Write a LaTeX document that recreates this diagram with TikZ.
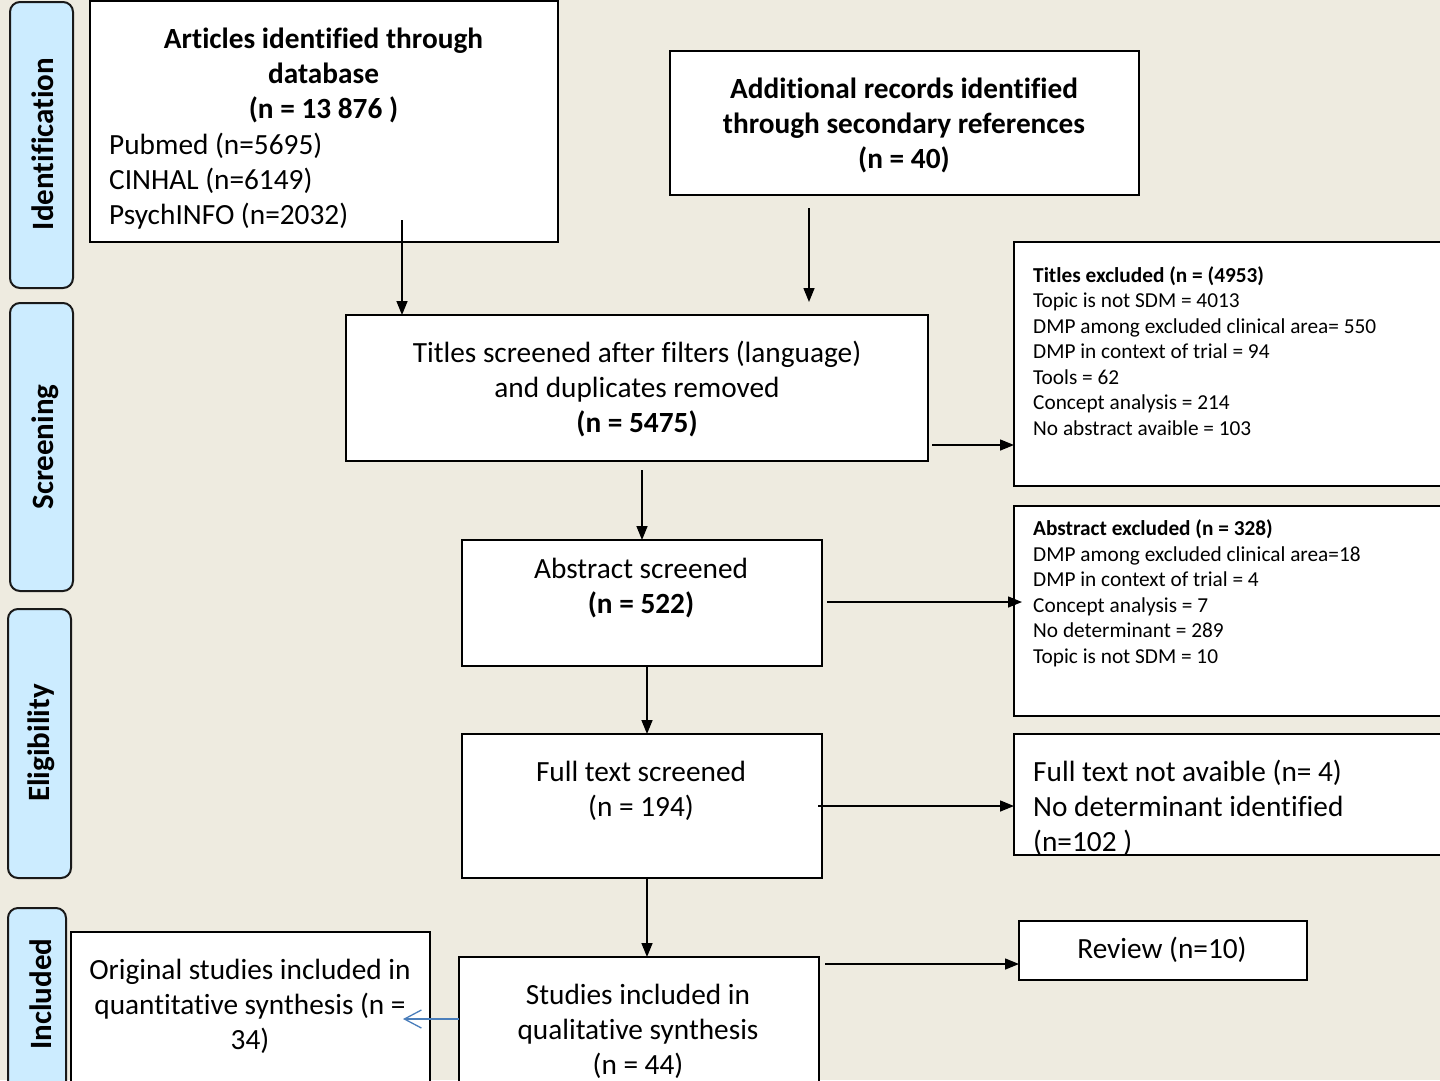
\documentclass[tikz,border=0pt]{standalone}
\usepackage{fontspec}
\setmainfont{Carlito}[Ligatures={NoCommon,NoContextual}]
\usetikzlibrary{arrows.meta}
\definecolor{bgcol}{HTML}{EEEBE0}
\definecolor{phasefill}{HTML}{CCECFF}
\definecolor{linkblue}{HTML}{4A7EBB}

\begin{document}
\begin{tikzpicture}[x=1pt,y=-1pt,
  box/.style={draw=black, fill=white, line width=2pt, inner sep=0pt, outer sep=0pt, anchor=north west},
  phase/.style={draw=black!90, fill=phasefill, line width=2pt, rounded corners=10pt,
    inner sep=0pt, outer sep=0pt, anchor=north west},
  phasetext/.style={rotate=90, anchor=base, inner sep=0pt,
    font=\fontsize{31}{37}\selectfont\bfseries},
  big/.style={font=\fontsize{29.3}{35}\selectfont, inner sep=0pt, align=center, anchor=north},
  bigb/.style={big, font=\fontsize{29.3}{35}\selectfont\bfseries},
  bigl/.style={big, align=left, anchor=north west},
  small/.style={font=\fontsize{21.3}{25.5}\selectfont, inner sep=0pt, align=left, anchor=north west},
  arr/.style={line width=1.5pt, -{Triangle[length=14pt,width=11pt]}},
  bluearr/.style={draw=linkblue, line width=1.3pt, -{Straight Barb[length=17pt,width=18pt]}}
]
\clip (0,0) rectangle (1440,1080);
\fill[bgcol] (0,0) rectangle (1440,1080);

% phase labels on the left
\node[phase, minimum width=63pt, minimum height=286pt] (pI) at (10,2) {};
\node[phase, minimum width=63pt, minimum height=288pt] (pS) at (10,303) {};
\node[phase, minimum width=63pt, minimum height=269pt] (pE) at (8,609) {};
\node[phase, minimum width=58pt, minimum height=200pt] (pN) at (8,908) {};
\node[phasetext] (tI) at (53,144) {Identification};
\node[phasetext] (tS) at (53,447) {Screening};
\node[phasetext] (tE) at (49,743) {Eligibility};
\node[phasetext] (tN) at (51,994) {Included};

% flow boxes
\node[box, minimum width=468pt, minimum height=241pt] (A) at (90,1) {};
\node[box, minimum width=469pt, minimum height=144pt] (B) at (670,51) {};
\node[box, minimum width=582pt, minimum height=146pt] (C) at (346,315) {};
\node[box, minimum width=440pt, minimum height=244pt] (D) at (1014,242) {};
\node[box, minimum width=360pt, minimum height=126pt] (E) at (462,540) {};
\node[box, minimum width=440pt, minimum height=210pt] (F) at (1014,506) {};
\node[box, minimum width=360pt, minimum height=144pt] (G) at (462,734) {};
\node[box, minimum width=440pt, minimum height=121pt] (H) at (1014,734) {};
\node[box, minimum width=360pt, minimum height=140pt] (I) at (459,957) {};
\node[box, minimum width=359pt, minimum height=160pt] (J) at (71,932) {};
\node[box, minimum width=288pt, minimum height=59pt] (K) at (1019,921) {};

% box texts
\node[bigb] (xA) at (323.5,23.5) {\strut Articles identified through\\database\\(n = 13 876 )};
\node[bigl] (lA) at (109,129.5) {\strut Pubmed (n=5695)\\CINHAL (n=6149)\\PsychINFO (n=2032)};
\node[bigb] (xB) at (904,73.5) {\strut Additional records identified\\through secondary references\\(n = 40)};
\node[big] (xC) at (637,337.5) {\strut Titles screened after filters (language)\\and duplicates removed\\\textbf{(n = 5475)}};
\node[small] (xD) at (1033,264.2) {\strut\textbf{Titles excluded (n = (4953)}\\Topic is not SDM = 4013\\DMP among excluded clinical area= 550\\DMP in context of trial = 94\\Tools = 62\\Concept analysis = 214\\No abstract avaible = 103};
\node[big] (xE) at (641,553.5) {\strut Abstract screened\\\textbf{(n = 522)}};
\node[small] (xF) at (1033,517.7) {\strut\textbf{Abstract excluded (n = 328)}\\DMP among excluded clinical area=18\\DMP in context of trial = 4\\Concept analysis = 7\\No determinant = 289\\Topic is not SDM = 10};
\node[big] (xG) at (641,757) {\strut Full text screened\\(n = 194)};
\node[bigl] (xH) at (1033,757) {\strut Full text not avaible (n= 4)\\No determinant identified\\(n=102 )};
\node[big] (xI) at (638,979.5) {\strut Studies included in\\qualitative synthesis\\(n = 44)};
\node[big] (xJ) at (250,954.5) {\strut Original studies included in\\quantitative synthesis (n =\\34)};
\node[big, anchor=base] (xK) at (1162,958) {Review (n=10)};

% connectors
\coordinate (a1) at (402,220);
\draw[arr] (a1) -- (a1 |- C.north);
\coordinate (b1) at (809,208);
\coordinate (b2) at (809,302);
\draw[arr] (b1) -- (b2);
\coordinate (c1) at (932,445);
\draw[arr] (c1) -- (c1 -| D.west);
\coordinate (c2) at (642,470);
\draw[arr] (c2) -- (c2 |- E.north);
\coordinate (e1) at (827,602);
\coordinate (e2) at (1022,602);
\draw[arr] (e1) -- (e2);
\coordinate (e3) at (647,666);
\draw[arr] (e3) -- (e3 |- G.north);
\coordinate (g1) at (818,806);
\draw[arr] (g1) -- (g1 -| H.west);
\coordinate (g2) at (647,878);
\draw[arr] (g2) -- (g2 |- I.north);
\coordinate (i1) at (825,964);
\draw[arr] (i1) -- (i1 -| K.west);
\coordinate (j1) at (403,1019);
\draw[bluearr] (j1 -| I.west) -- (j1);
\end{tikzpicture}
\end{document}
